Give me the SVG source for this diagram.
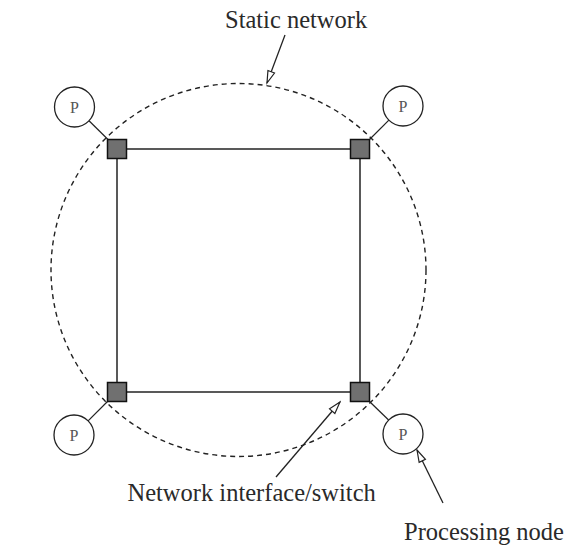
<svg xmlns="http://www.w3.org/2000/svg" width="572" height="554" viewBox="0 0 572 554">
  <style>
    .link { stroke: #222; stroke-width: 1.5; fill: none; }
    .pl { stroke: #222; stroke-width: 1.2; fill: none; }
    .sw { fill: #707070; stroke: #111; stroke-width: 1.5; }
    .pn { fill: #fff; stroke: #222; stroke-width: 1.3; }
    .pt { font-family: "Liberation Serif", "Times New Roman", serif; font-size: 16px; fill: #555; text-anchor: middle; }
    .lbl { font-family: "Liberation Serif", "Times New Roman", serif; font-size: 24.5px; fill: #2a2a2a; }
    .net { fill: none; stroke: #222; stroke-width: 1.4; stroke-dasharray: 5 4; }
    .ptr { stroke: #222; stroke-width: 1.3; fill: none; marker-end: url(#open); }
  </style>
  <defs>
    <marker id="open" markerUnits="userSpaceOnUse" markerWidth="16" markerHeight="10" viewBox="-14 -5 16 10" refX="0" refY="0" orient="auto">
      <path d="M0,0 L-12,-3.5 L-12,3.5 Z" fill="#fff" stroke="#222" stroke-width="1.2"/>
    </marker>
  </defs>
  <rect width="572" height="554" fill="#fff"/>

  <g id="static-network">
    <ellipse class="net" cx="238.5" cy="270" rx="187.5" ry="186.5"/>
  </g>

  <g id="connectors">
    <line class="link" x1="126" y1="149" x2="351" y2="149"/>
    <line class="link" x1="117" y1="158" x2="117" y2="383"/>
    <line class="link" x1="360" y1="158" x2="360" y2="383"/>
    <line class="link" x1="126" y1="392" x2="351" y2="392"/>
    <line class="pl" x1="89" y1="120.8" x2="108" y2="139.5"/>
    <line class="pl" x1="388.9" y1="120.1" x2="369.5" y2="139.5"/>
    <line class="pl" x1="88.1" y1="420.9" x2="107.5" y2="401.5"/>
    <line class="pl" x1="388.6" y1="420" x2="369.5" y2="401.5"/>
    <line class="ptr" x1="285" y1="35" x2="267" y2="83"/>
    <line class="ptr" x1="276" y1="477" x2="340" y2="402"/>
    <line class="ptr" x1="443" y1="503" x2="417" y2="450"/>
  </g>

  <g id="switch-tl"><rect class="sw" x="107.5" y="139.5" width="19" height="19"/></g>
  <g id="switch-tr"><rect class="sw" x="350.5" y="139.5" width="19" height="19"/></g>
  <g id="switch-bl"><rect class="sw" x="107.5" y="382.5" width="19" height="19"/></g>
  <g id="switch-br"><rect class="sw" x="350.5" y="382.5" width="19" height="19"/></g>

  <g id="proc-tl"><circle class="pn" cx="74.5" cy="107" r="20"/><text class="pt" x="74.5" y="112.5">P</text></g>
  <g id="proc-tr"><circle class="pn" cx="403" cy="106" r="20"/><text class="pt" x="403" y="111.5">P</text></g>
  <g id="proc-bl"><circle class="pn" cx="74" cy="435" r="20"/><text class="pt" x="74" y="440.5">P</text></g>
  <g id="proc-br"><circle class="pn" cx="403" cy="434" r="20"/><text class="pt" x="403" y="439.5">P</text></g>

  <g id="labels">
    <text class="lbl" x="225" y="28">Static network</text>
    <text class="lbl" x="127.5" y="501">Network interface/switch</text>
    <text class="lbl" x="404" y="540">Processing node</text>
  </g>
</svg>
